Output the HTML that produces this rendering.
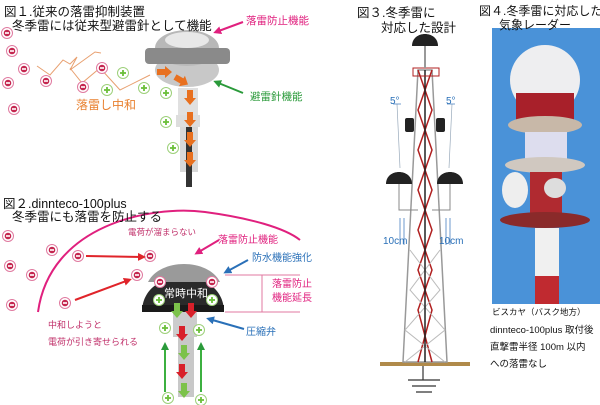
<!DOCTYPE html>
<html><head><meta charset="utf-8"><style>
body{margin:0;width:600px;height:405px;background:#fff;overflow:hidden;position:relative;font-family:"Liberation Sans","Noto Sans CJK JP",sans-serif}
.t{position:absolute;white-space:nowrap;color:#111}
svg{position:absolute;left:0;top:0}
</style></head><body>
<svg width="600" height="405" viewBox="0 0 600 405">
<defs>
<g id="m"><circle r="5.5" fill="#fff" stroke="#e07aa0" stroke-width="1"/><circle r="3.3" fill="#c4264f"/><rect x="-2" y="-0.8" width="4" height="1.6" fill="#fff"/></g>
<g id="p"><circle r="5.5" fill="#fff" stroke="#9dd07a" stroke-width="1"/><rect x="-3" y="-0.9" width="6" height="1.8" fill="#6bbf3a"/><rect x="-0.9" y="-3" width="1.8" height="6" fill="#6bbf3a"/></g>
<path id="da" d="M-3,0H3V8H6L0,15L-6,8H-3Z"/>
<marker id="ar" markerUnits="userSpaceOnUse" markerWidth="8" markerHeight="8" refX="5" refY="4" orient="auto"><path d="M0,0L8,4L0,8z" fill="#e0242a"/></marker>
<marker id="ap" markerUnits="userSpaceOnUse" markerWidth="8" markerHeight="8" refX="5" refY="4" orient="auto"><path d="M0,0L8,4L0,8z" fill="#e0207e"/></marker>
<marker id="ag" markerUnits="userSpaceOnUse" markerWidth="8" markerHeight="8" refX="5" refY="4" orient="auto"><path d="M0,0L8,4L0,8z" fill="#2a9a3a"/></marker>
<marker id="ab" markerUnits="userSpaceOnUse" markerWidth="8" markerHeight="8" refX="5" refY="4" orient="auto"><path d="M0,0L8,4L0,8z" fill="#2a70b8"/></marker>
</defs>
<!-- fig1 -->
<polyline points="37,66 50,75 63,60 70,64 77,57 70,70 95,52 101,53" fill="none" stroke="#e8a070" stroke-width="1"/>
<polyline points="70,68 82,83 100,68 120,90 150,75" fill="none" stroke="#e8a070" stroke-width="1"/>
<use href="#m" x="7" y="33"/><use href="#m" x="12" y="51"/><use href="#m" x="24" y="69"/><use href="#m" x="8" y="83"/><use href="#m" x="14" y="109"/><use href="#m" x="46" y="81"/><use href="#m" x="83" y="87"/><use href="#m" x="102" y="68"/>
<use href="#p" x="123" y="73"/><use href="#p" x="107" y="90"/><use href="#p" x="144" y="88"/><use href="#p" x="166" y="93"/><use href="#p" x="166" y="122"/><use href="#p" x="173" y="148"/>
<rect x="178" y="88" width="20" height="27" fill="#e0e0e0"/><rect x="176" y="115" width="24" height="12" fill="#ddd"/><rect x="180" y="127" width="18" height="45" fill="#d8d8d8"/><rect x="186" y="127" width="6" height="60" fill="#333"/>
<ellipse cx="187" cy="70" rx="32" ry="17" fill="#c8c8c8"/>
<ellipse cx="187" cy="48" rx="32" ry="18" fill="#b8b8b8"/><rect x="145" y="48" width="85" height="16" rx="4" fill="#8a8a8a"/><ellipse cx="187" cy="40" rx="22" ry="8" fill="#e8e8e8"/>
<g fill="#e8701f">
<use href="#da" transform="translate(157,72) rotate(-90)"/>
<use href="#da" transform="translate(175,77) rotate(-60)"/>
<use href="#da" x="190" y="90"/><use href="#da" x="190" y="112"/><use href="#da" x="190" y="132"/><use href="#da" x="190" y="152"/>
</g>
<line x1="243" y1="22" x2="216" y2="32" stroke="#e0207e" stroke-width="2" marker-end="url(#ap)"/>
<line x1="243" y1="93" x2="216" y2="82" stroke="#2a9a3a" stroke-width="2" marker-end="url(#ag)"/>
<!-- fig2 -->
<path d="M38,312 C50,225 150,205 205,212 C250,218 285,228 300,240" fill="none" stroke="#e0207e" stroke-width="2"/>
<use href="#m" x="8" y="236"/><use href="#m" x="52" y="250"/><use href="#m" x="78" y="256"/><use href="#m" x="10" y="266"/><use href="#m" x="32" y="275"/><use href="#m" x="12" y="305"/><use href="#m" x="65" y="303"/><use href="#m" x="150" y="256"/><use href="#m" x="137" y="275"/>
<line x1="86" y1="256" x2="143" y2="257" stroke="#e0242a" stroke-width="2" marker-end="url(#ar)"/>
<line x1="75" y1="300" x2="129" y2="280" stroke="#e0242a" stroke-width="2" marker-end="url(#ar)"/>
<rect x="173" y="312" width="24" height="25" fill="#ccc"/><rect x="178" y="337" width="16" height="60" fill="#c8c8c8"/>
<path d="M142,312 C142,265 224,265 224,312 Z" fill="#2a2a2a"/><path d="M148,282 C160,258 208,258 220,282 Z" fill="#9a9a9a"/><rect x="142" y="305" width="82" height="7" fill="#1a1a1a"/>
<use href="#m" x="160" y="282"/><use href="#m" x="212" y="282"/><use href="#p" x="159" y="300"/><use href="#p" x="212" y="300"/>
<use href="#p" x="165" y="328"/><use href="#p" x="199" y="330"/><use href="#p" x="168" y="398"/><use href="#p" x="201" y="400"/>
<g fill="#7cc24a"><use href="#da" x="177" y="303"/><use href="#da" x="184" y="345"/><use href="#da" x="184" y="383"/></g>
<g fill="#d8202a"><use href="#da" x="191" y="303"/><use href="#da" x="182" y="326"/><use href="#da" x="182" y="364"/></g>
<line x1="165" y1="392" x2="165" y2="345" stroke="#3cb040" stroke-width="2" marker-end="url(#ag)"/>
<line x1="201" y1="392" x2="201" y2="345" stroke="#3cb040" stroke-width="2" marker-end="url(#ag)"/>
<line x1="219" y1="240" x2="197" y2="253" stroke="#e0207e" stroke-width="2" marker-end="url(#ap)"/>
<line x1="248" y1="260" x2="226" y2="272" stroke="#2a70b8" stroke-width="2" marker-end="url(#ab)"/>
<line x1="244" y1="329" x2="209" y2="319" stroke="#2a70b8" stroke-width="2" marker-end="url(#ab)"/>
<path d="M225,275H300 M225,312H300 M262,275V312" stroke="#e07aa0" stroke-width="1"/>
<!-- fig3 tower -->
<rect x="380" y="362" width="90" height="4" fill="#b08a4a"/>
<path d="M423,366V380 M408,380H440 M412,386H436 M416,392H432" stroke="#333" stroke-width="1.2"/>
<path d="M403,362 L418,70 H432 L447,362 Z" fill="none" stroke="#999" stroke-width="1.5"/>
<path d="M418,70L432,110L418,150L432,190L418,230L432,270L418,310L432,362 M432,70L418,110L432,150L418,190L432,230L418,270L432,310L418,362" stroke="#b02020" stroke-width="1.5" fill="none"/>
<path d="M410,250L440,290L405,330L445,362 M440,250L410,290L445,330L405,362" stroke="#bbb" stroke-width="1" fill="none"/>
<line x1="425" y1="70" x2="425" y2="362" stroke="#222" stroke-width="1.5"/>
<rect x="413" y="68" width="26" height="8" fill="none" stroke="#b02020"/>
<line x1="425" y1="45" x2="425" y2="68" stroke="#999" stroke-width="2"/>
<path d="M412,46 C412,30 438,30 438,46Z" fill="#222"/>
<rect x="405" y="118" width="9" height="14" rx="2" fill="#222"/><rect x="436" y="118" width="9" height="14" rx="2" fill="#222"/>
<path d="M386,184 C386,168 412,168 412,184Z" fill="#222"/><path d="M437,184 C437,168 463,168 463,184Z" fill="#222"/>
<path d="M399,184V210H418 M450,184V210H432" stroke="#888" fill="none"/>
<path d="M397,104L400,168 M452,104L449,168" stroke="#9ab" stroke-width="0.7"/>
<path d="M393,104H401 M447,104H455 M400,218V245 M404,218V245 M446,218V245 M450,218V245" stroke="#4a80c0" stroke-width="0.8"/>
<!-- fig4 photo -->
<rect x="492" y="28" width="108" height="276" fill="#4a92d8"/>
<ellipse cx="545" cy="80" rx="35" ry="35" fill="#eeeef0"/>
<rect x="516" y="93" width="58" height="28" fill="#a8202a"/>
<ellipse cx="545" cy="125" rx="37" ry="9" fill="#c8b8a8"/>
<rect x="525" y="132" width="42" height="30" fill="#dde"/>
<ellipse cx="545" cy="165" rx="40" ry="8" fill="#d0c8c0"/>
<rect x="530" y="172" width="32" height="50" fill="#b02a30"/>
<ellipse cx="515" cy="190" rx="13" ry="18" fill="#eee"/><ellipse cx="555" cy="188" rx="11" ry="10" fill="#ddd"/>
<ellipse cx="545" cy="220" rx="45" ry="8" fill="#8a2a2a"/>
<rect x="535" y="228" width="24" height="48" fill="#f0f0f0"/><rect x="535" y="276" width="24" height="28" fill="#c02a30"/>
</svg>
<div class="t" style="left:4px;top:1px;font-size:12.5px">図１.従来の落雷抑制装置</div>
<div class="t" style="left:12px;top:15px;font-size:12.5px">冬季雷には従来型避雷針として機能</div>
<div class="t" style="left:246px;top:13px;font-size:10.5px;color:#e0207e">落雷防止機能</div>
<div class="t" style="left:250px;top:89px;font-size:10.5px;color:#2a9a3a">避雷針機能</div>
<div class="t" style="left:76px;top:96px;font-size:12px;color:#e8802f">落雷し中和</div>
<div class="t" style="left:3px;top:193px;font-size:12.5px">図２.dinnteco-100plus</div>
<div class="t" style="left:12px;top:206px;font-size:12.5px">冬季雷にも落雷を防止する</div>
<div class="t" style="left:128px;top:226px;font-size:8.5px;color:#c0306a">電荷が溜まらない</div>
<div class="t" style="left:218px;top:231px;font-size:10px;color:#e0207e">落雷防止機能</div>
<div class="t" style="left:252px;top:249px;font-size:10px;color:#2a70b8">防水機能強化</div>
<div class="t" style="left:272px;top:278px;font-size:10px;color:#e0207e;line-height:14px">落雷防止<br>機能延長</div>
<div class="t" style="left:164px;top:285px;font-size:11px;color:#fff">常時中和</div>
<div class="t" style="left:246px;top:323px;font-size:10px;color:#2a70b8">圧縮弁</div>
<div class="t" style="left:48px;top:317px;font-size:9px;color:#c0306a;line-height:17px">中和しようと<br>電荷が引き寄せられる</div>
<div class="t" style="left:357px;top:2px;font-size:12.5px">図３.冬季雷に</div>
<div class="t" style="left:381px;top:17px;font-size:12.5px">対応した設計</div>
<div class="t" style="left:390px;top:96px;font-size:10px;color:#2a70b8">5°</div>
<div class="t" style="left:446px;top:96px;font-size:10px;color:#2a70b8">5°</div>
<div class="t" style="left:383px;top:236px;font-size:10px;color:#2a70b8">10cm</div>
<div class="t" style="left:439px;top:236px;font-size:10px;color:#2a70b8">10cm</div>
<div class="t" style="left:479px;top:2px;font-size:12px">図４.冬季雷に対応した</div>
<div class="t" style="left:499px;top:16px;font-size:12px">気象レーダー</div>
<div class="t" style="left:492px;top:306px;font-size:8.5px">ビスカヤ（バスク地方）</div>
<div class="t" style="left:490px;top:322px;font-size:9.5px;line-height:17px">dinnteco-100plus 取付後<br>直撃雷半径 100m 以内<br>への落雷なし</div>
</body></html>
